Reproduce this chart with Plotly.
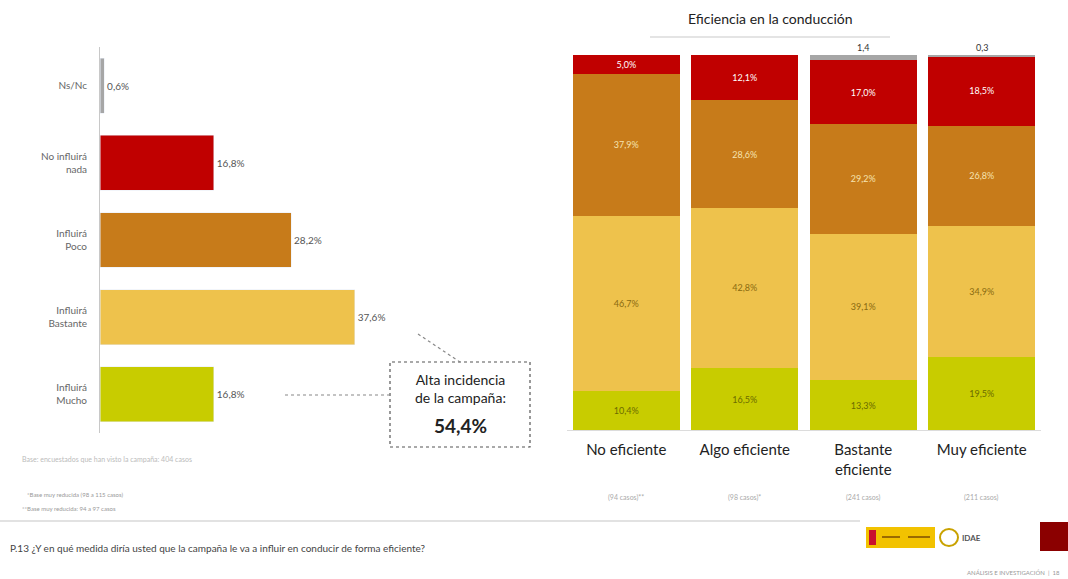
import plotly.graph_objects as go

# left chart: influence of the campaign
influ_cats = ['Ns/Nc', 'No influirá<br>nada', 'Influirá<br>Poco', 'Influirá<br>Bastante', 'Influirá<br>Mucho']
influ_vals = [0.6, 16.8, 28.2, 37.6, 16.8]
influ_colors = ['#A6A6A6', '#C00000', '#C77B1A', '#EEC24C', '#C8CC00']

# right chart: by driving efficiency
efic_cats = ['No eficiente', 'Algo eficiente', 'Bastante<br>eficiente', 'Muy eficiente']
efic_bases = ['(94 casos)**', '(98 casos)*', '(241 casos)', '(211 casos)']
mucho = [10.4, 16.5, 13.3, 19.5]
bastante = [46.7, 42.8, 39.1, 34.9]
poco = [37.9, 28.6, 29.2, 26.8]
nada = [5.0, 12.1, 17.0, 18.5]
nsnc = [0, 0, 1.4, 0.3]

FONT = 'Lato, Open Sans, sans-serif'
W, H = 1068, 579


def px(x):
    return x / W


def py(y):
    return (H - y) / H


def note(x, y, text, size, color, xanchor='center'):
    fig.add_annotation(x=px(x), y=py(y), xref='paper', yref='paper', showarrow=False,
                       xanchor=xanchor, yanchor='middle', text=text,
                       font=dict(size=size, color=color))


def pline(x0, y0, x1, y1, color, width=1.2, dash='solid'):
    fig.add_shape(type='line', xref='paper', yref='paper', x0=px(x0), x1=px(x1), y0=py(y0), y1=py(y1),
                  line=dict(color=color, width=width, dash=dash))


def prect(x0, y0, x1, y1, fill):
    fig.add_shape(type='rect', xref='paper', yref='paper', x0=px(x0), x1=px(x1), y0=py(y1), y1=py(y0),
                  fillcolor=fill, line_width=0)


fig = go.Figure()

fig.add_trace(go.Bar(
    y=influ_cats, x=influ_vals, orientation='h', marker_color=influ_colors,
    width=0.71, texttemplate='%{x:.1f}%', textposition='outside',
    textfont=dict(size=10, color='#555'), cliponaxis=False,
    xaxis='x', yaxis='y', showlegend=False))

stack = [
    (mucho, '#C8CC00', '#6b6b00'),
    (bastante, '#EEC24C', '#8a6a10'),
    (poco, '#C77B1A', '#f6e3b0'),
    (nada, '#C00000', '#ffffff'),
]
for vals, col, tcol in stack:
    fig.add_trace(go.Bar(
        x=efic_cats, y=vals, marker_color=col, marker_line_width=0,
        texttemplate='%{y:.1f}%', textposition='inside', insidetextanchor='middle',
        textfont=dict(size=9, color=tcol), constraintext='none',
        xaxis='x2', yaxis='y2', showlegend=False))

fig.add_trace(go.Bar(
    x=efic_cats, y=nsnc, marker_color='#A6A6A6', marker_line_width=0,
    textposition='none', xaxis='x2', yaxis='y2', showlegend=False))

totals = [min(round(a + b + c + d + e, 3), 100)
          for a, b, c, d, e in zip(mucho, bastante, poco, nada, nsnc)]
for i, (v, tot) in enumerate(zip(nsnc, totals)):
    if v:
        fig.add_annotation(x=i, y=tot, xref='x2', yref='y2', yanchor='bottom', showarrow=False,
                           text=f'{v:.1f}'.replace('.', ','), font=dict(size=9, color='#333'))

for i, base in enumerate(efic_bases):
    fig.add_annotation(x=i, y=py(497), xref='x2', yref='paper', yanchor='middle', text=base,
                       showarrow=False, font=dict(size=7, color='#aaa'))

# highlight box
alta = influ_vals[3] + influ_vals[4]
fig.add_shape(type='rect', xref='paper', yref='paper', x0=px(390), x1=px(530), y0=py(447), y1=py(362),
              line=dict(color='#555', width=1.2, dash='dot'))
note(460, 388, 'Alta incidencia<br>de la campaña:', 14, '#222')
note(460, 426, '<b>' + f'{alta:.1f}'.replace('.', ',') + '%</b>', 19, '#222')
pline(285, 395, 390, 395, '#888', dash='dot')
pline(418, 334, 460, 362, '#888', dash='dot')

# titles and footer texts
note(770, 18, 'Eficiencia en la conducción', 14, '#222')
pline(650, 37, 890, 37, '#e4e4e4', width=2)
note(20, 459, 'Base: encuestados que han visto la campaña: 404 casos', 7, '#bbb', 'left')
note(25, 494, '*Base muy reducida (98 a 115 casos)', 6, '#999', 'left')
note(20, 509, '**Base muy reducida: 94 a 97 casos', 6, '#999', 'left')
pline(0, 521, 860, 521, '#e2e2e2', width=2)
note(8, 548, 'P.13 ¿Y en qué medida diría usted que la campaña le va a influir en conducir de forma eficiente?',
     10, '#444', 'left')
note(1062, 572, 'ANÁLISIS E INVESTIGACIÓN  |  18', 6, '#999', 'right')

# logos (simple)
prect(866, 527, 935, 548, '#F2C200')
prect(869, 530, 876, 545, '#C8102E')
prect(882, 536, 900, 538, '#9a6a00')
prect(908, 536, 930, 538, '#9a6a00')
fig.add_shape(type='circle', xref='paper', yref='paper', x0=px(940), x1=px(958), y0=py(546), y1=py(529),
              line=dict(color='#C9A200', width=2))
note(960, 538, '<b>IDAE</b>', 8, '#555', 'left')
prect(1040, 522, 1068, 551, '#8B0000')

fig.update_layout(
    width=W, height=H, margin=dict(l=0, r=0, t=0, b=0),
    plot_bgcolor='white', paper_bgcolor='white', separators=',.',
    barmode='stack', bargap=0.1, font=dict(family=FONT),
    xaxis=dict(domain=[px(100), px(371)], range=[0, 40], visible=False),
    yaxis=dict(domain=[py(433), py(47)], autorange='reversed', showline=True, linecolor='#c8c8c8',
               ticks='', tickfont=dict(size=10, color='#666'), ticklabelstandoff=10),
    xaxis2=dict(domain=[px(567), px(1041)], anchor='y2', showline=True, linecolor='#dcdcdc',
                ticks='', tickfont=dict(size=15, color='#222'), ticklabelstandoff=6),
    yaxis2=dict(domain=[py(430), py(55)], range=[0, 100], anchor='x2', visible=False),
)

fig.write_html('out.html', config={'displayModeBar': False},
               post_script="document.body.style.margin='0';")
